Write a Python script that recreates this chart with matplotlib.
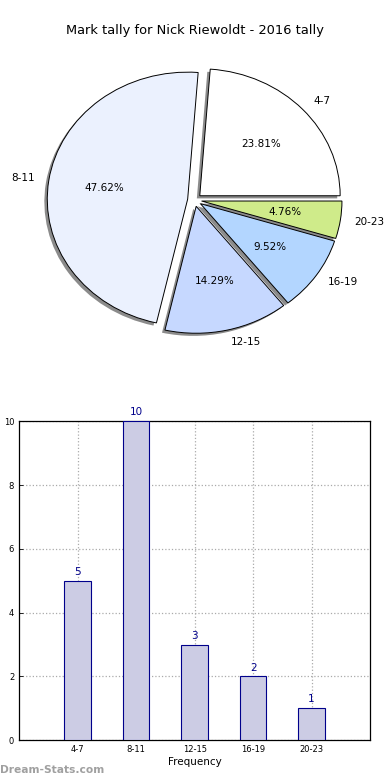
import matplotlib
matplotlib.use("Agg")
import matplotlib.pyplot as plt

categories = ["4-7", "8-11", "12-15", "16-19", "20-23"]
counts = [5, 10, 3, 2, 1]
pie_colors = ["#FFFFFF", "#EBF1FE", "#C6D8FF", "#B3D6FF", "#CFEB8A"]
title = "Mark tally for Nick Riewoldt - 2016 tally"

fig = plt.figure(figsize=(3.9, 7.8), dpi=100)

# Pie
ax1 = fig.add_axes([0.049, 0.540, 0.90, 0.407])
wedges, texts, autotexts = ax1.pie(
    counts, labels=categories, colors=pie_colors, autopct="%1.2f%%",
    explode=[0.05] * len(counts),
    shadow=dict(ox=-0.015, oy=-0.015, facecolor="#777777", alpha=0.85, edgecolor="none"),
    startangle=0,
    wedgeprops=dict(edgecolor="black", linewidth=0.7),
    textprops=dict(fontsize=7.5))
ax1.set_aspect("auto")
ax1.set_xlim(-1.25, 1.25)
ax1.set_ylim(-1.25, 1.25)
fig.text(0.5, 0.961, title, ha="center", va="center", fontsize=9.4)

# Bars
ax2 = fig.add_axes([0.049, 0.051, 0.90, 0.409])
x = list(range(len(categories)))
bars = ax2.bar(x, counts, width=0.45, color="#CCCCE4", edgecolor="#00008B",
               linewidth=0.8, zorder=3)
for xi, v in zip(x, counts):
    ax2.text(xi, v + 0.12, str(v), ha="center", va="bottom", color="#00008B", fontsize=7.5)
ax2.set_xlim(-1, 5)
ax2.set_ylim(0, 10)
ax2.set_xticks(x)
ax2.set_xticklabels(categories)
ax2.set_yticks([0, 2, 4, 6, 8, 10])
ax2.tick_params(labelsize=6, direction="in", length=3, width=0.6, top=False, right=False)
ax2.grid(True, linestyle=":", color="#AAAAAA", linewidth=0.9, zorder=0)
ax2.set_axisbelow(True)
for s in ax2.spines.values():
    s.set_linewidth(0.9)
ax2.set_xlabel("Frequency", fontsize=7.5, labelpad=2)
ax2.set_ylabel("Mark Tally", fontsize=7.5)
ax2.yaxis.set_label_coords(-0.062, 0.5)

fig.text(0.0, 0.013, "Dream-Stats.com", fontsize=7.7, color="#A0A0A0", fontweight="bold",
         ha="left", va="center")

fig.savefig("out.png", dpi=100)
